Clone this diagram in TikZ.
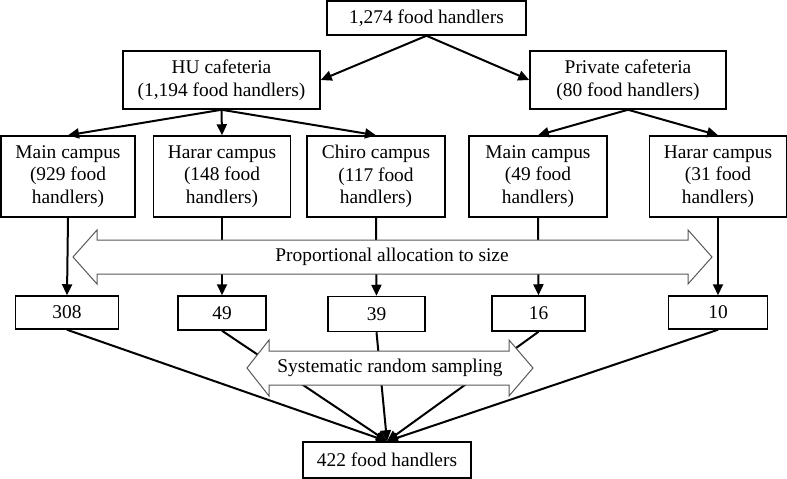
\documentclass[tikz,border=0pt]{standalone}
\usepackage{fontspec}
\setmainfont{Liberation Serif}
\usetikzlibrary{arrows.meta}
\tikzset{
  box/.style={draw=black, line width=1.5pt, inner sep=0pt, align=center, fill=white,
    font=\fontsize{19.4}{22.5}\selectfont},
  conn/.style={line width=2pt, -{Triangle[length=11pt,width=10pt]}},
  bigarrow/.style={draw=black!65, line width=1pt, fill=white},
  lbl/.style={font=\fontsize{19.4}{22.5}\selectfont, inner sep=0pt}
}
\begin{document}
\begin{tikzpicture}[x=1pt,y=-1pt]
\useasboundingbox (0,0) rectangle (787,479);
\node[box, minimum width=199pt, minimum height=34pt] (top) at (426.5,18) {1,274 food handlers};
\node[box, minimum width=197pt, minimum height=58pt] (hu) at (221.5,80) {HU cafeteria\\(1,194 food handlers)};
\node[box, minimum width=196pt, minimum height=58pt] (pr) at (628,80) {Private cafeteria\\(80 food handlers)};
\node[box, minimum width=134pt, minimum height=81pt] (mc1) at (68,176.5) {Main campus\\(929 food\\handlers)};
\node[box, minimum width=137pt, minimum height=81pt] (hc1) at (222,176.5) {Harar campus\\(148 food\\handlers)};
\node[box, minimum width=138pt, minimum height=81pt] (cc) at (376,176.5) {Chiro campus\\(117 food\\handlers)};
\node[box, minimum width=138pt, minimum height=81pt] (mc2) at (538,176.5) {Main campus\\(49 food\\handlers)};
\node[box, minimum width=137pt, minimum height=81pt] (hc2) at (718,176.5) {Harar campus\\(31 food\\handlers)};
\node[box, minimum width=103pt, minimum height=33pt] (n308) at (67,312.5) {308};
\node[box, minimum width=88pt, minimum height=34pt] (n49) at (222,313) {49};
\node[box, minimum width=97pt, minimum height=35pt] (n39) at (376.5,314) {39};
\node[box, minimum width=93pt, minimum height=35pt] (n16) at (538.5,313.5) {16};
\node[box, minimum width=99pt, minimum height=33pt] (n10) at (718,312.5) {10};
\node[box, minimum width=168pt, minimum height=36pt] (fin) at (387,460) {422 food handlers};

\draw[conn] (top.south) -- (hu.east);
\draw[conn] (top.south) -- (pr.west);
\draw[conn] (hu.south) -- (mc1.north);
\draw[conn] (hu.south) -- (hc1.north);
\draw[conn] (hu.south) -- (cc.north);
\draw[conn] (pr.south) -- (mc2.north);
\draw[conn] (pr.south) -- (hc2.north);

\draw[conn] (mc1.south) -- (n308.north);
\draw[conn] (hc1.south) -- (n49.north);
\draw[conn] (cc.south) -- (n39.north);
\draw[conn] (mc2.south) -- (n16.north);
\draw[conn] (hc2.south) -- (n10.north);

\draw[conn] (n308.south) -- (fin.north);
\draw[conn] (n49.south) -- (fin.north);
\draw[conn] (n39.south) -- (fin.north);
\draw[conn] (n16.south) -- (fin.north);
\draw[conn] (n10.south) -- (fin.north);

\draw[bigarrow] (73,257) -- (97,230) -- (97,240) -- (688,240) -- (688,230) -- (712,257)
  -- (688,284) -- (688,274) -- (97,274) -- (97,284) -- cycle;
\node[lbl] (prop) at (392,257) {Proportional allocation to size};

\draw[bigarrow] (247,368) -- (269,340) -- (269,351) -- (509,351) -- (509,340) -- (533,368)
  -- (509,396) -- (509,385) -- (269,385) -- (269,396) -- cycle;
\node[lbl] (sys) at (390,368) {Systematic random sampling};
\end{tikzpicture}
\end{document}
